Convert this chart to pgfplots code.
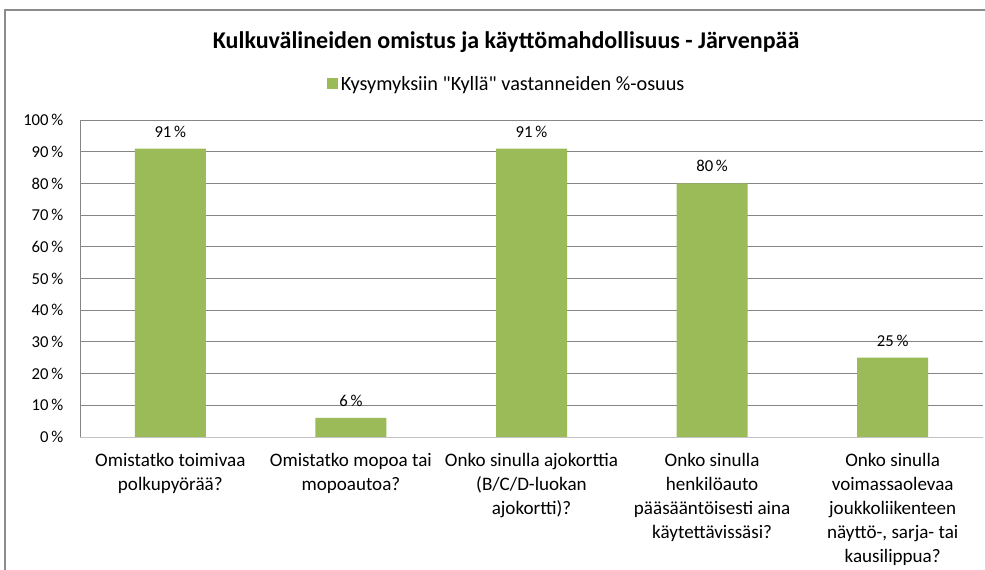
\documentclass[border=0pt]{standalone}
\usepackage{fontspec}
\setmainfont{Carlito}
\usepackage{pgfplots}
\pgfplotsset{compat=1.18}
\definecolor{barg}{HTML}{9BBB59}
\definecolor{gridg}{HTML}{868686}
\definecolor{frameg}{HTML}{8C8C8C}
\font\qf="Carlito" at 15.2pt
\newcommand{\dq}{{\qf\char34}}
\begin{document}
\begin{tikzpicture}[x=0.75pt,y=0.75pt]
\useasboundingbox (0,0) rectangle (985,570);
\draw[color=frameg, line width=1.2pt] (5,-30) -- (5,560) -- (1000,560);
\node[font=\bfseries\fontsize{18}{21}\selectfont] at (506,528) {Kulkuvälineiden omistus ja käyttömahdollisuus - Järvenpää};
\begin{axis}[
  at={(60pt,99.75pt)}, anchor=south west,
  scale only axis, width=677.25pt, height=237.75pt,
  ybar, bar width=53.25pt,
  xmin=-0.5, xmax=4.5, ymin=0, ymax=100,
  /pgf/number format/assume math mode=true,
  axis lines=left,
  axis line style={-},
  y axis line style={draw=gridg},
  x axis line style={draw=gridg!50},
  major tick length=0pt,
  ytick={0,10,...,100},
  yticklabel={\pgfmathprintnumber{\tick}\,\%},
  yticklabel style={font=\fontsize{12.5}{14}\selectfont, xshift=-9pt},
  ymajorgrids, grid style={draw=gridg, line width=0.6pt},
  xtick={0,1,2,3,4},
  xticklabels={{Omistatko toimivaa\\polkupyörää?},
               {Omistatko mopoa tai\\mopoautoa?},
               {Onko sinulla ajokorttia\\(B/C/D-luokan\\ajokortti)?},
               {Onko sinulla\\henkilöauto\\pääsääntöisesti aina\\käytettävissäsi?},
               {Onko sinulla\\voimassaolevaa\\joukkoliikenteen\\näyttö-, sarja- tai\\kausilippua?}},
  xticklabel style={align=center, font=\fontsize{14.3}{18}\selectfont, anchor=north, yshift=-9pt},
  nodes near coords={\pgfmathprintnumber{\pgfplotspointmeta}\,\%},
  nodes near coords style={font=\fontsize{12.5}{14}\selectfont, anchor=south, yshift=5pt, text=black},
  legend style={at={(0.473,1.1136)}, anchor=center, draw=none, fill=none, font=\fontsize{15.2}{17}\selectfont},
  legend image code/.code={\fill[barg] (0cm,-0.145cm) rectangle (0.29cm,0.145cm);},
]
\addplot[fill=barg, draw=none] coordinates {(0,91) (1,6) (2,91) (3,80) (4,25)};
\legend{Kysymyksiin \dq Kyllä\dq{} vastanneiden \%-osuus}
\end{axis}
\end{tikzpicture}
\end{document}
